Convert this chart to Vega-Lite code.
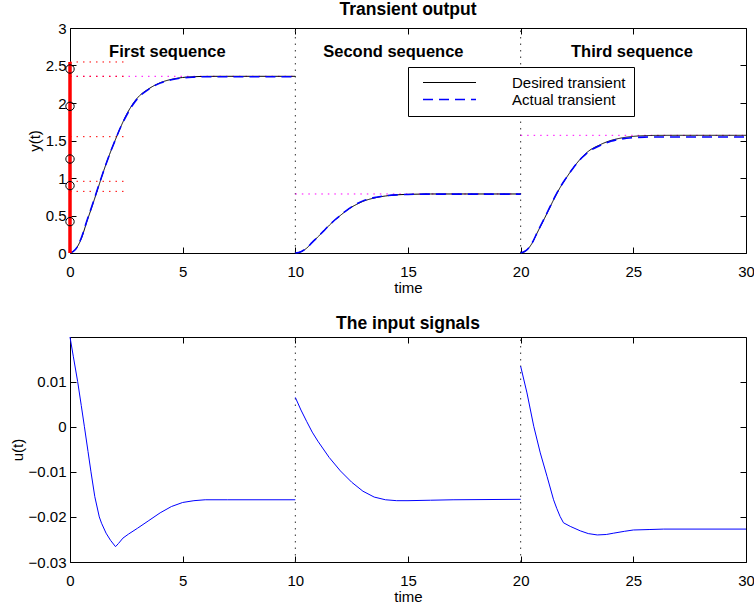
{
  "$schema": "https://vega.github.io/schema/vega-lite/v6.json",
  "background": "white",
  "padding": {"left": 10, "top": 0, "right": 0, "bottom": 0},
  "spacing": 19,
  "config": {
    "font": "Liberation Sans",
    "view": {"stroke": null},
    "axis": {
      "grid": false,
      "domainColor": "black",
      "domainWidth": 1,
      "tickColor": "black",
      "tickSize": -6,
      "tickWidth": 1,
      "labelFont": "Liberation Sans",
      "labelFontSize": 15,
      "labelColor": "black",
      "labelFlush": false,
      "labelOverlap": false,
      "titleFont": "Liberation Sans",
      "titleFontSize": 15,
      "titleFontWeight": "normal",
      "titleColor": "black"
    },
    "axisX": {"labelPadding": 17, "titlePadding": 1, "labelAngle": 0},
    "axisY": {"labelPadding": 10, "titlePadding": 3},
    "title": {"font": "Liberation Sans", "fontSize": 17.5, "fontWeight": "bold", "color": "black", "baseline": "alphabetic", "offset": 3, "anchor": "middle"},
    "legend": {"labelFont": "Liberation Sans", "labelFontSize": 15, "labelColor": "black"}
  },
  "datasets": {
    "vlines": [{"t": 10}, {"t": 20}],
    "curves": [
      {"series": "Desired transient", "seg": 1, "t": 0, "y": 0},
      {"series": "Desired transient", "seg": 1, "t": 0.25, "y": 0.05},
      {"series": "Desired transient", "seg": 1, "t": 0.5, "y": 0.19},
      {"series": "Desired transient", "seg": 1, "t": 0.75, "y": 0.42},
      {"series": "Desired transient", "seg": 1, "t": 1.0, "y": 0.64},
      {"series": "Desired transient", "seg": 1, "t": 1.25, "y": 0.87},
      {"series": "Desired transient", "seg": 1, "t": 1.5, "y": 1.1},
      {"series": "Desired transient", "seg": 1, "t": 1.75, "y": 1.31},
      {"series": "Desired transient", "seg": 1, "t": 2.0, "y": 1.5},
      {"series": "Desired transient", "seg": 1, "t": 2.25, "y": 1.68},
      {"series": "Desired transient", "seg": 1, "t": 2.5, "y": 1.84},
      {"series": "Desired transient", "seg": 1, "t": 2.75, "y": 1.97},
      {"series": "Desired transient", "seg": 1, "t": 3.0, "y": 2.07},
      {"series": "Desired transient", "seg": 1, "t": 3.5, "y": 2.19},
      {"series": "Desired transient", "seg": 1, "t": 4.0, "y": 2.27},
      {"series": "Desired transient", "seg": 1, "t": 4.5, "y": 2.315},
      {"series": "Desired transient", "seg": 1, "t": 5.0, "y": 2.34},
      {"series": "Desired transient", "seg": 1, "t": 5.5, "y": 2.35},
      {"series": "Desired transient", "seg": 1, "t": 6.0, "y": 2.355},
      {"series": "Desired transient", "seg": 1, "t": 7.0, "y": 2.356},
      {"series": "Desired transient", "seg": 1, "t": 10.0, "y": 2.356},
      {"series": "Desired transient", "seg": 2, "t": 10.0, "y": 0},
      {"series": "Desired transient", "seg": 2, "t": 10.25, "y": 0.017},
      {"series": "Desired transient", "seg": 2, "t": 10.5, "y": 0.064},
      {"series": "Desired transient", "seg": 2, "t": 10.75, "y": 0.14},
      {"series": "Desired transient", "seg": 2, "t": 11.0, "y": 0.214},
      {"series": "Desired transient", "seg": 2, "t": 11.25, "y": 0.29},
      {"series": "Desired transient", "seg": 2, "t": 11.5, "y": 0.368},
      {"series": "Desired transient", "seg": 2, "t": 11.75, "y": 0.438},
      {"series": "Desired transient", "seg": 2, "t": 12.0, "y": 0.501},
      {"series": "Desired transient", "seg": 2, "t": 12.25, "y": 0.561},
      {"series": "Desired transient", "seg": 2, "t": 12.5, "y": 0.612},
      {"series": "Desired transient", "seg": 2, "t": 12.75, "y": 0.653},
      {"series": "Desired transient", "seg": 2, "t": 13.0, "y": 0.688},
      {"series": "Desired transient", "seg": 2, "t": 13.5, "y": 0.733},
      {"series": "Desired transient", "seg": 2, "t": 14.0, "y": 0.76},
      {"series": "Desired transient", "seg": 2, "t": 14.5, "y": 0.775},
      {"series": "Desired transient", "seg": 2, "t": 15.0, "y": 0.782},
      {"series": "Desired transient", "seg": 2, "t": 15.5, "y": 0.785},
      {"series": "Desired transient", "seg": 2, "t": 16.0, "y": 0.787},
      {"series": "Desired transient", "seg": 2, "t": 17.0, "y": 0.787},
      {"series": "Desired transient", "seg": 2, "t": 20.0, "y": 0.787},
      {"series": "Desired transient", "seg": 3, "t": 20.0, "y": 0},
      {"series": "Desired transient", "seg": 3, "t": 20.25, "y": 0.033},
      {"series": "Desired transient", "seg": 3, "t": 20.5, "y": 0.127},
      {"series": "Desired transient", "seg": 3, "t": 20.75, "y": 0.279},
      {"series": "Desired transient", "seg": 3, "t": 21.0, "y": 0.427},
      {"series": "Desired transient", "seg": 3, "t": 21.25, "y": 0.579},
      {"series": "Desired transient", "seg": 3, "t": 21.5, "y": 0.733},
      {"series": "Desired transient", "seg": 3, "t": 21.75, "y": 0.872},
      {"series": "Desired transient", "seg": 3, "t": 22.0, "y": 0.99},
      {"series": "Desired transient", "seg": 3, "t": 22.25, "y": 1.1},
      {"series": "Desired transient", "seg": 3, "t": 22.5, "y": 1.2},
      {"series": "Desired transient", "seg": 3, "t": 22.75, "y": 1.285},
      {"series": "Desired transient", "seg": 3, "t": 23.0, "y": 1.355},
      {"series": "Desired transient", "seg": 3, "t": 23.5, "y": 1.44},
      {"series": "Desired transient", "seg": 3, "t": 24.0, "y": 1.5},
      {"series": "Desired transient", "seg": 3, "t": 24.5, "y": 1.535},
      {"series": "Desired transient", "seg": 3, "t": 25.0, "y": 1.555},
      {"series": "Desired transient", "seg": 3, "t": 25.5, "y": 1.564},
      {"series": "Desired transient", "seg": 3, "t": 26.0, "y": 1.568},
      {"series": "Desired transient", "seg": 3, "t": 27.0, "y": 1.569},
      {"series": "Desired transient", "seg": 3, "t": 30.0, "y": 1.569},
      {"series": "Actual transient", "seg": 1, "t": 0, "y": 0},
      {"series": "Actual transient", "seg": 1, "t": 0.25, "y": 0.05},
      {"series": "Actual transient", "seg": 1, "t": 0.5, "y": 0.2},
      {"series": "Actual transient", "seg": 1, "t": 0.75, "y": 0.43},
      {"series": "Actual transient", "seg": 1, "t": 1.0, "y": 0.65},
      {"series": "Actual transient", "seg": 1, "t": 1.25, "y": 0.88},
      {"series": "Actual transient", "seg": 1, "t": 1.5, "y": 1.1},
      {"series": "Actual transient", "seg": 1, "t": 1.75, "y": 1.31},
      {"series": "Actual transient", "seg": 1, "t": 2.0, "y": 1.5},
      {"series": "Actual transient", "seg": 1, "t": 2.25, "y": 1.68},
      {"series": "Actual transient", "seg": 1, "t": 2.5, "y": 1.83},
      {"series": "Actual transient", "seg": 1, "t": 2.75, "y": 1.96},
      {"series": "Actual transient", "seg": 1, "t": 3.0, "y": 2.06},
      {"series": "Actual transient", "seg": 1, "t": 3.5, "y": 2.185},
      {"series": "Actual transient", "seg": 1, "t": 4.0, "y": 2.265},
      {"series": "Actual transient", "seg": 1, "t": 4.5, "y": 2.31},
      {"series": "Actual transient", "seg": 1, "t": 5.0, "y": 2.335},
      {"series": "Actual transient", "seg": 1, "t": 5.5, "y": 2.345},
      {"series": "Actual transient", "seg": 1, "t": 6.0, "y": 2.35},
      {"series": "Actual transient", "seg": 1, "t": 7.0, "y": 2.35},
      {"series": "Actual transient", "seg": 1, "t": 10.0, "y": 2.35},
      {"series": "Actual transient", "seg": 2, "t": 10.0, "y": 0},
      {"series": "Actual transient", "seg": 2, "t": 10.25, "y": 0.018},
      {"series": "Actual transient", "seg": 2, "t": 10.5, "y": 0.066},
      {"series": "Actual transient", "seg": 2, "t": 10.75, "y": 0.142},
      {"series": "Actual transient", "seg": 2, "t": 11.0, "y": 0.216},
      {"series": "Actual transient", "seg": 2, "t": 11.25, "y": 0.292},
      {"series": "Actual transient", "seg": 2, "t": 11.5, "y": 0.37},
      {"series": "Actual transient", "seg": 2, "t": 11.75, "y": 0.44},
      {"series": "Actual transient", "seg": 2, "t": 12.0, "y": 0.503},
      {"series": "Actual transient", "seg": 2, "t": 12.25, "y": 0.563},
      {"series": "Actual transient", "seg": 2, "t": 12.5, "y": 0.616},
      {"series": "Actual transient", "seg": 2, "t": 12.75, "y": 0.66},
      {"series": "Actual transient", "seg": 2, "t": 13.0, "y": 0.695},
      {"series": "Actual transient", "seg": 2, "t": 13.5, "y": 0.738},
      {"series": "Actual transient", "seg": 2, "t": 14.0, "y": 0.762},
      {"series": "Actual transient", "seg": 2, "t": 14.5, "y": 0.775},
      {"series": "Actual transient", "seg": 2, "t": 15.0, "y": 0.781},
      {"series": "Actual transient", "seg": 2, "t": 15.5, "y": 0.784},
      {"series": "Actual transient", "seg": 2, "t": 16.0, "y": 0.785},
      {"series": "Actual transient", "seg": 2, "t": 17.0, "y": 0.785},
      {"series": "Actual transient", "seg": 2, "t": 20.0, "y": 0.785},
      {"series": "Actual transient", "seg": 3, "t": 20.0, "y": 0},
      {"series": "Actual transient", "seg": 3, "t": 20.25, "y": 0.035},
      {"series": "Actual transient", "seg": 3, "t": 20.5, "y": 0.13},
      {"series": "Actual transient", "seg": 3, "t": 20.75, "y": 0.283},
      {"series": "Actual transient", "seg": 3, "t": 21.0, "y": 0.432},
      {"series": "Actual transient", "seg": 3, "t": 21.25, "y": 0.584},
      {"series": "Actual transient", "seg": 3, "t": 21.5, "y": 0.737},
      {"series": "Actual transient", "seg": 3, "t": 21.75, "y": 0.875},
      {"series": "Actual transient", "seg": 3, "t": 22.0, "y": 0.992},
      {"series": "Actual transient", "seg": 3, "t": 22.25, "y": 1.1},
      {"series": "Actual transient", "seg": 3, "t": 22.5, "y": 1.198},
      {"series": "Actual transient", "seg": 3, "t": 22.75, "y": 1.28},
      {"series": "Actual transient", "seg": 3, "t": 23.0, "y": 1.348},
      {"series": "Actual transient", "seg": 3, "t": 23.5, "y": 1.43},
      {"series": "Actual transient", "seg": 3, "t": 24.0, "y": 1.49},
      {"series": "Actual transient", "seg": 3, "t": 24.5, "y": 1.522},
      {"series": "Actual transient", "seg": 3, "t": 25.0, "y": 1.538},
      {"series": "Actual transient", "seg": 3, "t": 25.5, "y": 1.545},
      {"series": "Actual transient", "seg": 3, "t": 26.0, "y": 1.547},
      {"series": "Actual transient", "seg": 3, "t": 27.0, "y": 1.547},
      {"series": "Actual transient", "seg": 3, "t": 30.0, "y": 1.547}
    ],
    "redrefs": [
      {"from": 0, "to": 2.45, "level": 2.547},
      {"from": 0, "to": 2.45, "level": 2.356},
      {"from": 0, "to": 2.45, "level": 1.551},
      {"from": 0, "to": 2.45, "level": 0.956},
      {"from": 0, "to": 2.45, "level": 0.822}
    ],
    "magrefs": [
      {"from": 0, "to": 10, "level": 2.356},
      {"from": 10, "to": 20, "level": 0.787},
      {"from": 20, "to": 30, "level": 1.569}
    ],
    "redbar": [{"t": 0, "lo": 0, "hi": 2.547}],
    "circles": [
      {"t": 0, "y": 2.453},
      {"t": 0, "y": 1.956},
      {"t": 0, "y": 1.253},
      {"t": 0, "y": 0.898},
      {"t": 0, "y": 0.418}
    ],
    "notes": [
      {"t": 4.32, "y": 2.62, "label": "First sequence"},
      {"t": 14.35, "y": 2.62, "label": "Second sequence"},
      {"t": 24.94, "y": 2.62, "label": "Third sequence"}
    ],
    "inputs": [
      {"seg": 1, "t": 0, "u": 0.0199},
      {"seg": 1, "t": 0.15, "u": 0.0155},
      {"seg": 1, "t": 0.34, "u": 0.01},
      {"seg": 1, "t": 0.5, "u": 0.0047},
      {"seg": 1, "t": 0.64, "u": 0},
      {"seg": 1, "t": 0.8, "u": -0.0055},
      {"seg": 1, "t": 0.93, "u": -0.01},
      {"seg": 1, "t": 1.1, "u": -0.0155},
      {"seg": 1, "t": 1.3, "u": -0.02},
      {"seg": 1, "t": 1.4, "u": -0.0214},
      {"seg": 1, "t": 1.6, "u": -0.0236},
      {"seg": 1, "t": 1.8, "u": -0.0252},
      {"seg": 1, "t": 2.02, "u": -0.0266},
      {"seg": 1, "t": 2.15, "u": -0.0259},
      {"seg": 1, "t": 2.35, "u": -0.0247},
      {"seg": 1, "t": 2.6, "u": -0.0238},
      {"seg": 1, "t": 3.0, "u": -0.0225},
      {"seg": 1, "t": 3.5, "u": -0.0208},
      {"seg": 1, "t": 4.0, "u": -0.0191},
      {"seg": 1, "t": 4.5, "u": -0.0177},
      {"seg": 1, "t": 5.0, "u": -0.0168},
      {"seg": 1, "t": 5.5, "u": -0.0164},
      {"seg": 1, "t": 6.0, "u": -0.0162},
      {"seg": 1, "t": 7.0, "u": -0.0162},
      {"seg": 1, "t": 10.0, "u": -0.0162},
      {"seg": 2, "t": 10.0, "u": 0.0065},
      {"seg": 2, "t": 10.25, "u": 0.0037},
      {"seg": 2, "t": 10.5, "u": 0.0012},
      {"seg": 2, "t": 10.75, "u": -0.0012},
      {"seg": 2, "t": 11.0, "u": -0.0032},
      {"seg": 2, "t": 11.5, "u": -0.0068},
      {"seg": 2, "t": 12.0, "u": -0.0098},
      {"seg": 2, "t": 12.5, "u": -0.0123},
      {"seg": 2, "t": 13.0, "u": -0.0143},
      {"seg": 2, "t": 13.5, "u": -0.0156},
      {"seg": 2, "t": 14.0, "u": -0.0162},
      {"seg": 2, "t": 14.5, "u": -0.0164},
      {"seg": 2, "t": 15.0, "u": -0.0164},
      {"seg": 2, "t": 16.0, "u": -0.0163},
      {"seg": 2, "t": 17.0, "u": -0.0162},
      {"seg": 2, "t": 20.0, "u": -0.0161},
      {"seg": 3, "t": 20.0, "u": 0.0134},
      {"seg": 3, "t": 20.28, "u": 0.0075},
      {"seg": 3, "t": 20.58, "u": 0.0001},
      {"seg": 3, "t": 20.87, "u": -0.0058},
      {"seg": 3, "t": 21.17, "u": -0.011},
      {"seg": 3, "t": 21.46, "u": -0.0162},
      {"seg": 3, "t": 21.6, "u": -0.0181},
      {"seg": 3, "t": 21.75, "u": -0.0199},
      {"seg": 3, "t": 21.9, "u": -0.0213},
      {"seg": 3, "t": 22.2, "u": -0.0221},
      {"seg": 3, "t": 22.65, "u": -0.0231},
      {"seg": 3, "t": 23.0, "u": -0.0237},
      {"seg": 3, "t": 23.4, "u": -0.024},
      {"seg": 3, "t": 23.8, "u": -0.0239},
      {"seg": 3, "t": 24.13, "u": -0.0236},
      {"seg": 3, "t": 24.6, "u": -0.0232},
      {"seg": 3, "t": 25.0, "u": -0.0229},
      {"seg": 3, "t": 25.7, "u": -0.0228},
      {"seg": 3, "t": 26.35, "u": -0.0227},
      {"seg": 3, "t": 30.0, "u": -0.0227}
    ]
  },
  "vconcat": [
    {
      "width": 676,
      "height": 225,
      "title": {"text": "Transient output"},
      "resolve": {"axis": {"x": "independent", "y": "independent"}},
      "layer": [
        {
          "data": {"name": "vlines"},
          "mark": {"type": "rule", "color": "#333333", "strokeWidth": 1, "strokeDash": [1.5, 5]},
          "encoding": {
            "x": {"field": "t", "type": "quantitative", "axis": {"orient": "top", "labels": false, "title": null, "values": [0, 5, 10, 15, 20, 25, 30]}},
            "y": {"datum": 0, "type": "quantitative", "axis": {"orient": "right", "labels": false, "title": null, "values": [0, 0.5, 1, 1.5, 2, 2.5, 3]}},
            "y2": {"datum": 3}
          }
        },
        {
          "data": {"name": "magrefs"},
          "mark": {"type": "rule", "color": "#ff00ff", "strokeWidth": 1, "strokeDash": [1.5, 5]},
          "encoding": {
            "x": {"field": "from", "type": "quantitative", "axis": null},
            "x2": {"field": "to"},
            "y": {"field": "level", "type": "quantitative", "axis": null}
          }
        },
        {
          "data": {"name": "redrefs"},
          "mark": {"type": "rule", "color": "#ff0000", "strokeWidth": 1, "strokeDash": [1.5, 5]},
          "encoding": {
            "x": {"field": "from", "type": "quantitative", "axis": null},
            "x2": {"field": "to"},
            "y": {"field": "level", "type": "quantitative", "axis": null}
          }
        },
        {
          "data": {"name": "curves"},
          "mark": {"type": "line", "interpolate": "monotone"},
          "encoding": {
            "x": {"field": "t", "type": "quantitative", "scale": {"domain": [0, 30], "nice": false}, "axis": {"title": "time", "values": [0, 5, 10, 15, 20, 25, 30]}},
            "y": {"field": "y", "type": "quantitative", "scale": {"domain": [0, 3], "nice": false}, "axis": {"title": "y(t)", "values": [0, 0.5, 1, 1.5, 2, 2.5, 3], "format": "~g"}},
            "detail": {"field": "seg", "type": "nominal"},
            "color": {
              "field": "series", "type": "nominal",
              "scale": {"domain": ["Desired transient", "Actual transient"], "range": ["#000000", "#0000ff"]},
              "legend": {"title": null, "orient": "none", "legendX": 338, "legendY": 39, "symbolType": "stroke", "symbolSize": 2809, "clipHeight": 15, "symbolOffset": 6, "labelOffset": 35, "padding": 8, "rowPadding": 1, "strokeColor": "black", "fillColor": "white", "cornerRadius": 0}
            },
            "strokeDash": {
              "field": "series", "type": "nominal",
              "scale": {"domain": ["Desired transient", "Actual transient"], "range": [[1, 0], [10, 6]]},
              "legend": {"title": null, "orient": "none", "legendX": 338, "legendY": 39, "symbolType": "stroke", "symbolSize": 2809, "clipHeight": 15, "symbolOffset": 6, "labelOffset": 35, "padding": 8, "rowPadding": 1, "strokeColor": "black", "fillColor": "white", "cornerRadius": 0}
            },
            "strokeWidth": {
              "field": "series", "type": "nominal",
              "scale": {"domain": ["Desired transient", "Actual transient"], "range": [1, 1.6]},
              "legend": {"title": null, "orient": "none", "legendX": 338, "legendY": 39, "symbolType": "stroke", "symbolSize": 2809, "clipHeight": 15, "symbolOffset": 6, "labelOffset": 35, "padding": 8, "rowPadding": 1, "strokeColor": "black", "fillColor": "white", "cornerRadius": 0}
            }
          }
        },
        {
          "data": {"name": "redbar"},
          "mark": {"type": "rule", "color": "#ff0000", "strokeWidth": 3.5},
          "encoding": {
            "x": {"field": "t", "type": "quantitative", "axis": null},
            "y": {"field": "lo", "type": "quantitative", "axis": null},
            "y2": {"field": "hi"}
          }
        },
        {
          "data": {"name": "circles"},
          "mark": {"type": "point", "shape": "circle", "filled": false, "color": "#000000", "size": 70, "strokeWidth": 1, "opacity": 1},
          "encoding": {
            "x": {"field": "t", "type": "quantitative", "axis": null},
            "y": {"field": "y", "type": "quantitative", "axis": null}
          }
        },
        {
          "data": {"name": "notes"},
          "mark": {"type": "text", "font": "Liberation Sans", "fontSize": 16.5, "fontWeight": "bold", "color": "#000000", "align": "center", "baseline": "alphabetic"},
          "encoding": {
            "x": {"field": "t", "type": "quantitative", "axis": null},
            "y": {"field": "y", "type": "quantitative", "axis": null},
            "text": {"field": "label"}
          }
        }
      ]
    },
    {
      "width": 676,
      "height": 225,
      "title": {"text": "The input signals"},
      "resolve": {"axis": {"x": "independent", "y": "independent"}},
      "layer": [
        {
          "data": {"name": "vlines"},
          "mark": {"type": "rule", "color": "#333333", "strokeWidth": 1, "strokeDash": [1.5, 5]},
          "encoding": {
            "x": {"field": "t", "type": "quantitative", "axis": {"orient": "top", "labels": false, "title": null, "values": [0, 5, 10, 15, 20, 25, 30]}},
            "y": {"datum": -0.03, "type": "quantitative", "axis": {"orient": "right", "labels": false, "title": null, "values": [-0.03, -0.02, -0.01, 0, 0.01]}},
            "y2": {"datum": 0.0199}
          }
        },
        {
          "data": {"name": "inputs"},
          "mark": {"type": "line", "color": "#0000ff", "strokeWidth": 1},
          "encoding": {
            "x": {"field": "t", "type": "quantitative", "scale": {"domain": [0, 30], "nice": false}, "axis": {"title": "time", "values": [0, 5, 10, 15, 20, 25, 30]}},
            "y": {"field": "u", "type": "quantitative", "scale": {"domain": [-0.03, 0.0199], "nice": false, "zero": false}, "axis": {"title": "u(t)", "values": [-0.03, -0.02, -0.01, 0, 0.01], "format": "~g"}},
            "detail": {"field": "seg", "type": "nominal"}
          }
        }
      ]
    }
  ]
}
